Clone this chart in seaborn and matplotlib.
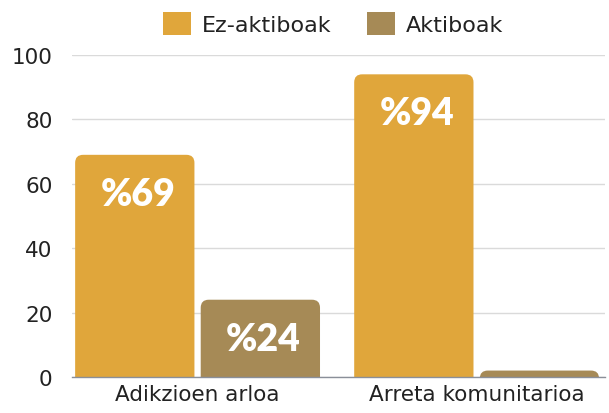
import pandas as pd
import matplotlib
matplotlib.use("Agg")
import matplotlib.pyplot as plt
import seaborn as sns
from matplotlib.patches import FancyBboxPatch, Patch

# data
categories = ["Adikzioen arloa", "Arreta komunitarioa"]
series = ["Ez-aktiboak", "Aktiboak"]
ez_aktiboak = [69, 94]
aktiboak = [24, 2]
colors = ["#E0A63B", "#A68A56"]

df = pd.DataFrame({
    "arloa": categories * 2,
    "mota": [series[0]] * 2 + [series[1]] * 2,
    "balioa": ez_aktiboak + aktiboak,
})

sns.set_theme(style="white")
plt.rcParams["font.family"] = ["DejaVu Sans"]

fig = plt.figure(figsize=(6.09, 4.14), dpi=100)
ax = fig.add_axes([72 / 609, 36 / 414, 533 / 609, 322 / 414])

sns.barplot(data=df, x="arloa", y="balioa", hue="mota", hue_order=series,
            palette=colors, width=0.9, gap=0.05, saturation=1,
            errorbar=None, legend=False, ax=ax)

ax.set_xlim(-0.45, 1.46)
ax.set_ylim(0, 100)
ax.set_yticks(range(0, 101, 20))
ax.yaxis.grid(True, color="#DADADA", linewidth=1)
ax.set_axisbelow(True)
ax.set_xlabel("")
ax.set_ylabel("")
sns.despine(ax=ax, left=True)
ax.spines["bottom"].set_color("#8A8F99")
ax.spines["bottom"].set_linewidth(1)
ax.tick_params(axis="both", length=0, labelsize=15.5, colors="#222222")
ax.tick_params(axis="y", pad=14)
ax.tick_params(axis="x", pad=5)

# rounded tops for the bars
fig.canvas.draw()
px_x = (ax.get_xlim()[1] - ax.get_xlim()[0]) / ax.bbox.width
px_y = (ax.get_ylim()[1] - ax.get_ylim()[0]) / ax.bbox.height
r = 8
for bar in list(ax.patches):
    x0, w, h = bar.get_x(), bar.get_width(), bar.get_height()
    col = bar.get_facecolor()
    bar.set_visible(False)
    ext = r * px_y
    rb = FancyBboxPatch((x0, -ext), w, h + ext,
                        boxstyle=f"round,pad=0,rounding_size={r * px_x}",
                        mutation_aspect=px_y / px_x,
                        facecolor=col, edgecolor="none", zorder=2)
    ax.add_patch(rb)
    if h > 5:
        ax.annotate(f"%{round(h)}", (x0 + w / 2, h), xytext=(3, -39),
                    textcoords="offset pixels", ha="center", va="center",
                    color="white", fontsize=27, fontweight="heavy",
                    family="Lato", zorder=3)

handles = [Patch(facecolor=c, edgecolor="none") for c in colors]
ax.legend(handles, series, loc="lower center", bbox_to_anchor=(0.49, 1.0),
          ncol=2, frameon=False, fontsize=16, handlelength=1.25,
          handleheight=1.25, handletextpad=0.5, columnspacing=1.6,
          labelcolor="#222222")

fig.savefig("out.png", dpi=100)
